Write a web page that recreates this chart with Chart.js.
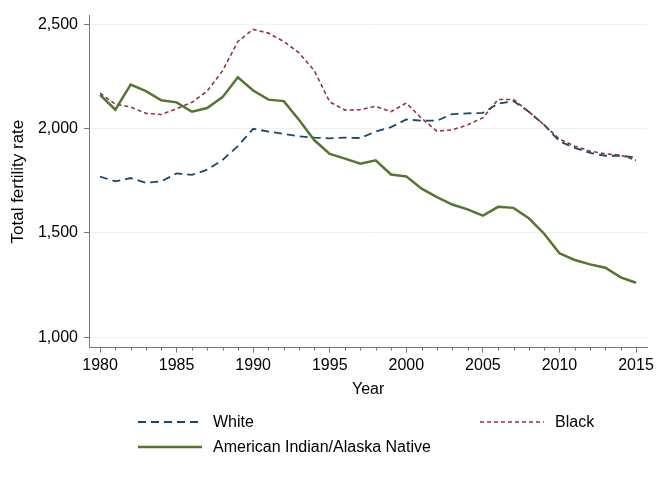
<!DOCTYPE html>
<html>
<head>
<meta charset="utf-8">
<script src="https://cdn.jsdelivr.net/npm/chart.js@4.4.1/dist/chart.umd.min.js"></script>
<style>
  html, body { margin: 0; padding: 0; background: #fff; }
  #wrap { position: relative; width: 657px; height: 480px; font-family: "Liberation Sans", Arial, sans-serif; }
  #chart { position: absolute; left: 0; top: 0; }
  .legend-item { position: absolute; height: 20px; display: flex; align-items: center; font-size: 16px; color: #000; white-space: nowrap; }
  .legend-item svg { margin-right: 11px; }
</style>
</head>
<body>
<div id="wrap">
  <canvas id="chart" width="657" height="480"></canvas>
  <div id="legend"></div>
</div>
<script>
// data
const years = [1980, 1981, 1982, 1983, 1984, 1985, 1986, 1987, 1988, 1989,
               1990, 1991, 1992, 1993, 1994, 1995, 1996, 1997, 1998, 1999,
               2000, 2001, 2002, 2003, 2004, 2005, 2006, 2007, 2008, 2009,
               2010, 2011, 2012, 2013, 2014, 2015];
const majorYears = [1980, 1985, 1990, 1995, 2000, 2005, 2010, 2015];
const yTicks = [1000, 1500, 2000, 2500];

const seriesNames = ['White', 'Black', 'American Indian/Alaska Native'];

const white = [1770, 1747, 1763, 1740, 1747, 1785, 1778, 1803, 1850, 1916,
               1999, 1986, 1975, 1963, 1957, 1953, 1957, 1955, 1986, 2007,
               2044, 2038, 2038, 2070, 2073, 2076, 2120, 2132, 2081, 2018,
               1939, 1908, 1884, 1870, 1870, 1861];
const black = [2170, 2117, 2104, 2073, 2068, 2095, 2126, 2180, 2277, 2418,
               2476, 2458, 2418, 2363, 2277, 2128, 2089, 2091, 2107, 2081,
               2123, 2049, 1988, 1994, 2018, 2052, 2140, 2140, 2081, 2018,
               1950, 1916, 1892, 1879, 1873, 1848];
const aian  = [2162, 2091, 2211, 2180, 2136, 2126, 2081, 2099, 2151, 2246,
               2183, 2139, 2132, 2041, 1944, 1879, 1856, 1832, 1848, 1780,
               1771, 1712, 1672, 1636, 1613, 1583, 1625, 1620, 1570, 1496,
               1402, 1370, 1349, 1333, 1287, 1261];

const colors = ['#1a476f', '#90353b', '#55752f'];
const dashes = [[8, 5], [4, 3], []];
const widths = [1.8, 1.6, 2.5];

Chart.defaults.font.family = '"Liberation Sans", Arial, sans-serif';
Chart.defaults.font.size = 16;
Chart.defaults.color = '#000';

const toPoints = arr => years.map((yr, i) => ({ x: yr, y: arr[i] }));

/* ============ minor yearly ticks on x ============ */
const minorTicks = {
  id: 'minorTicks',
  afterDraw(chart) {
    const x = chart.scales.x;
    const ctx = chart.ctx;
    ctx.save();
    ctx.strokeStyle = '#777';
    ctx.lineWidth = 1;
    years.forEach(yr => {
      if (majorYears.includes(yr)) return;
      const px = Math.round(x.getPixelForValue(yr)) + 0.5;
      ctx.beginPath();
      ctx.moveTo(px, x.top);
      ctx.lineTo(px, x.top + 3);
      ctx.stroke();
    });
    ctx.restore();
  }
};

const seriesData = [white, black, aian];

new Chart(document.getElementById('chart'), {
  type: 'line',
  data: {
    datasets: seriesData.map((arr, i) => ({
      label: seriesNames[i],
      data: toPoints(arr),
      borderColor: colors[i],
      borderWidth: widths[i],
      borderDash: dashes[i],
      pointRadius: 0,
      tension: 0,
      fill: false,
      order: 2 - i
    }))
  },
  options: {
    responsive: false,
    animation: false,
    layout: { padding: { top: 12, right: 9, bottom: 81, left: 0 } },
    plugins: {
      legend: { display: false },
      tooltip: { enabled: false }
    },
    scales: {
      x: {
        type: 'linear',
        min: 1979.28,
        max: 2015.74,
        afterBuildTicks: s => { s.ticks = majorYears.map(v => ({ value: v })); },
        ticks: {
          callback: v => String(v),
          padding: 3,
          maxRotation: 0,
          autoSkip: false
        },
        grid: { drawOnChartArea: false, drawTicks: true, tickLength: 5, tickColor: '#777' },
        border: { color: '#777', width: 1 },
        title: { display: true, text: 'Year', padding: { top: 2, bottom: 0 } }
      },
      y: {
        min: 950,
        max: 2542,
        afterBuildTicks: s => { s.ticks = yTicks.map(v => ({ value: v })); },
        afterFit: s => { s.width = 89; },
        ticks: {
          callback: v => v.toLocaleString('en-US'),
          padding: 6
        },
        grid: { color: '#eaf2f3', lineWidth: 1, tickLength: 5, tickColor: '#777' },
        border: { color: '#777', width: 1 },
        title: { display: true, text: 'Total fertility rate', font: { size: 17 }, padding: { top: 8, bottom: 0 } }
      }
    }
  },
  plugins: [minorTicks]
});

/* ============ legend (two columns) ============ */
const legendSpots = [[138, 412], [480, 412], [138, 437]];
const legend = document.getElementById('legend');
seriesNames.forEach((name, i) => {
  const item = document.createElement('div');
  item.className = 'legend-item';
  item.style.left = legendSpots[i][0] + 'px';
  item.style.top = legendSpots[i][1] + 'px';
  const dash = dashes[i].length ? dashes[i].join(' ') : 'none';
  item.innerHTML =
    '<svg width="64" height="6"><line x1="0" y1="3" x2="64" y2="3" stroke="' + colors[i] +
    '" stroke-width="' + widths[i] + '" stroke-dasharray="' + dash + '"/></svg>' +
    '<span>' + name + '</span>';
  legend.appendChild(item);
});
</script>
</body>
</html>
